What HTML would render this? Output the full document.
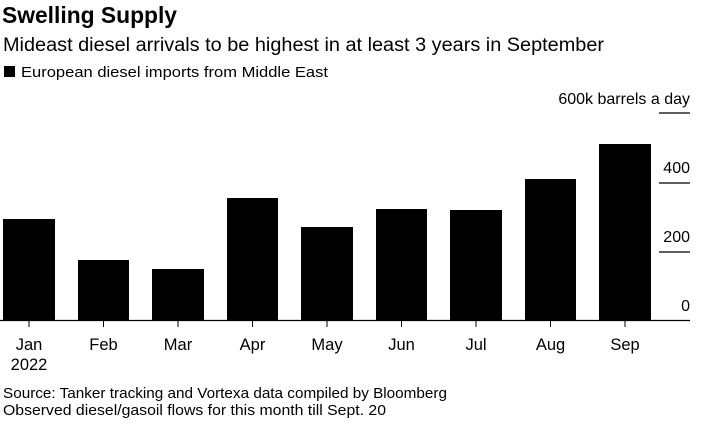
<!DOCTYPE html><html><head><style>
body{margin:0;background:#fff;width:701px;height:423px;overflow:hidden;font-family:"Liberation Sans",sans-serif;color:#000}
</style></head><body>
<svg width="701" height="423" xmlns="http://www.w3.org/2000/svg" font-family="Liberation Sans, sans-serif">
<text x="2" y="23" font-size="23" font-weight="bold" textLength="175" lengthAdjust="spacingAndGlyphs">Swelling Supply</text>
<text x="3" y="51" font-size="19" textLength="601" lengthAdjust="spacingAndGlyphs">Mideast diesel arrivals to be highest in at least 3 years in September</text>
<rect x="4" y="66" width="11" height="11"/>
<text x="21" y="77" font-size="15" textLength="307" lengthAdjust="spacingAndGlyphs">European diesel imports from Middle East</text>
<g stroke="#000" stroke-width="1.3">
<line x1="659" y1="113" x2="690" y2="113"/>
<line x1="659" y1="183" x2="690" y2="183"/>
<line x1="659" y1="252" x2="690" y2="252"/>
<line x1="0" y1="320.5" x2="690" y2="320.5"/>
</g>
<g font-size="16" text-anchor="end">
<text x="690" y="104">600k barrels a day</text>
<text x="690" y="173">400</text>
<text x="690" y="242">200</text>
<text x="690" y="311">0</text>
</g>
<g>
<rect x="3" y="219" width="52" height="101"/>
<rect x="78" y="260" width="51" height="60"/>
<rect x="152" y="269" width="52" height="51"/>
<rect x="227" y="198" width="51" height="122"/>
<rect x="301" y="227" width="52" height="93"/>
<rect x="376" y="209" width="51" height="111"/>
<rect x="450" y="210" width="52" height="110"/>
<rect x="525" y="179" width="51" height="141"/>
<rect x="599" y="144" width="52" height="176"/>
</g>
<g stroke="#000" stroke-width="1">
<line x1="29" y1="320" x2="29" y2="327"/><line x1="103.5" y1="320" x2="103.5" y2="327"/><line x1="178" y1="320" x2="178" y2="327"/><line x1="252.5" y1="320" x2="252.5" y2="327"/><line x1="327" y1="320" x2="327" y2="327"/><line x1="401.5" y1="320" x2="401.5" y2="327"/><line x1="476" y1="320" x2="476" y2="327"/><line x1="550.5" y1="320" x2="550.5" y2="327"/><line x1="625" y1="320" x2="625" y2="327"/>
</g>
<g font-size="16.5" text-anchor="middle">
<text x="29" y="350">Jan</text><text x="29" y="370">2022</text>
<text x="103.5" y="350">Feb</text><text x="178" y="350">Mar</text><text x="252.5" y="350">Apr</text><text x="327" y="350">May</text><text x="401.5" y="350">Jun</text><text x="476" y="350">Jul</text><text x="550.5" y="350">Aug</text><text x="625" y="350">Sep</text>
</g>
<text x="3" y="398" font-size="15" textLength="444" lengthAdjust="spacingAndGlyphs">Source: Tanker tracking and Vortexa data compiled by Bloomberg</text>
<text x="3" y="415" font-size="15" textLength="383" lengthAdjust="spacingAndGlyphs">Observed diesel/gasoil flows for this month till Sept. 20</text>
</svg>
</body></html>
